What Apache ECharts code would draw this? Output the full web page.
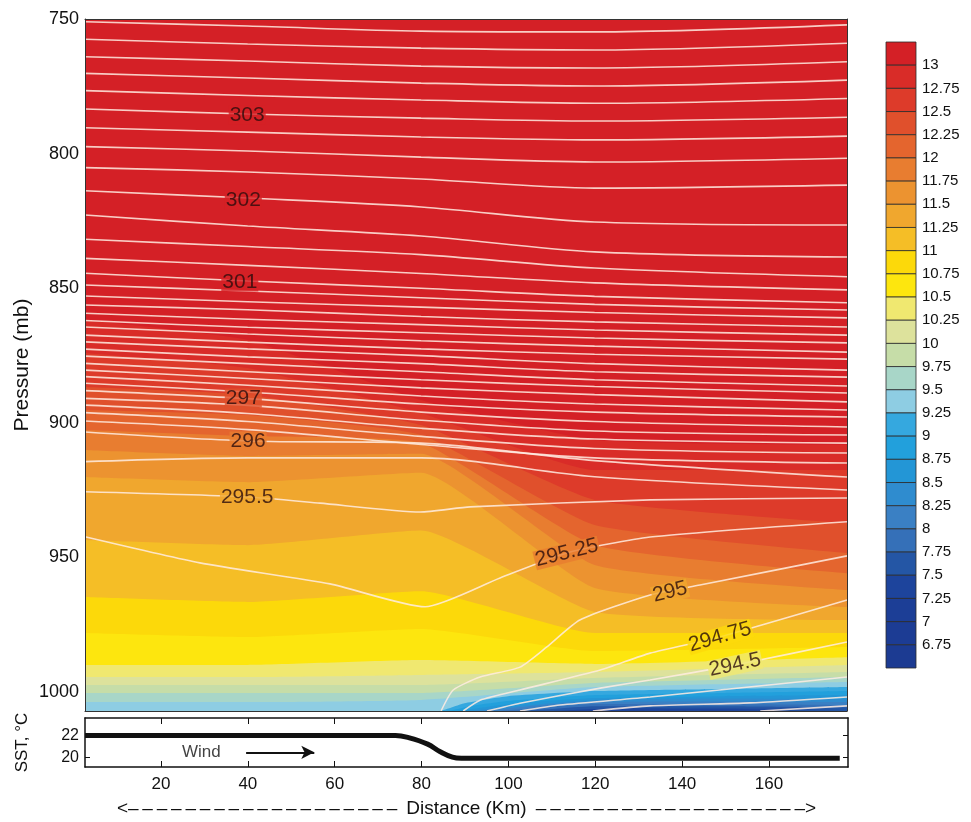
<!DOCTYPE html>
<html><head><meta charset="utf-8">
<script src="https://cdn.jsdelivr.net/npm/echarts@6/dist/echarts.min.js"></script>
<style>html,body{margin:0;padding:0;background:#fff}#c{width:971px;height:822px}</style>
</head><body><div id="c"></div>
<script>
// ---------------- DATA ----------------
const distanceTicks = [20, 40, 60, 80, 100, 120, 140, 160];
const pressureTicks = [750, 800, 850, 900, 950, 1000];
const sstTicks = [20, 22];
const colorbarTicks = [13, 12.75, 12.5, 12.25, 12, 11.75, 11.5, 11.25, 11, 10.75, 10.5, 10.25, 10,
  9.75, 9.5, 9.25, 9, 8.75, 8.5, 8.25, 8, 7.75, 7.5, 7.25, 7, 6.75];
// colours of the 27 humidity bands, from ">13" down to "<6.75"
const bandColors = ['#d42026', '#d92c28', '#dd3b2a', '#e0502c', '#e4652e', '#e87d30', '#ec9330', '#f0a72e',
  '#f5be26', '#fcd90a', '#fde60e', '#f0e870', '#dde29c', '#c6dda8', '#a8d6c8', '#8ecde3', '#35a8df',
  '#22a0dc', '#2396d6', '#2f8ccf', '#3a80c4', '#3570b8', '#2456a5', '#1d449c', '#1c3e96', '#1c3c94', '#1c3b92'];

// potential temperature contours, pressure (mb) at distance stations (km)
const distanceStations = [2.5, 40, 80, 120, 178.2];
const thetaUpperLevels = [304.25, 304, 303.75, 303.5, 303.25, 303, 302.75, 302.5, 302.25, 302, 301.75,
  301.5, 301.25, 301, 300.75, 300.5, 300.25, 300, 299.75, 299.5, 299.25, 299, 298.75, 298.5, 298.25,
  298, 297.75, 297.5, 297.25, 297, 296.75, 296.5, 296.25, 296, 295.75];
const thetaUpperP = [
  [751.0, 752.6, 754.5, 754.8, 752.2],
  [757.5, 759.3, 760.8, 761.5, 759.0],
  [764.0, 765.6, 767.5, 768.2, 765.9],
  [770.2, 771.9, 773.8, 774.9, 772.7],
  [776.6, 778.4, 780.1, 781.3, 779.5],
  [783.4, 785.3, 786.8, 787.9, 786.5],
  [790.4, 792.0, 793.8, 794.9, 793.5],
  [797.4, 799.0, 801.3, 803.1, 801.7],
  [805.2, 806.8, 809.4, 812.8, 811.7],
  [813.8, 816.5, 819.8, 825.4, 826.5],
  [822.8, 826.9, 830.6, 836.5, 838.4],
  [831.8, 834.5, 837.5, 842.5, 845.7],
  [838.9, 841.5, 844.5, 848.0, 850.6],
  [844.4, 847.3, 850.0, 853.0, 855.4],
  [848.8, 851.0, 853.5, 856.0, 858.1],
  [852.9, 855.0, 857.0, 859.0, 861.0],
  [856.2, 858.0, 860.5, 862.5, 864.4],
  [859.3, 861.5, 863.5, 865.5, 867.4],
  [862.0, 864.5, 866.5, 868.5, 870.3],
  [864.4, 867.0, 869.5, 871.5, 873.7],
  [867.4, 870.0, 872.5, 874.5, 876.3],
  [869.9, 872.5, 875.0, 878.0, 880.4],
  [872.6, 875.5, 878.0, 881.0, 883.0],
  [875.2, 878.0, 881.0, 884.0, 886.3],
  [877.9, 881.0, 884.0, 886.5, 888.9],
  [880.4, 883.5, 887.0, 889.5, 892.2],
  [882.8, 886.0, 890.0, 893.0, 895.2],
  [885.3, 888.5, 893.0, 896.0, 897.8],
  [888.0, 891.0, 896.0, 899.5, 901.5],
  [890.9, 893.5, 899.0, 903.0, 904.5],
  [893.4, 896.5, 902.0, 906.0, 907.5],
  [896.2, 899.5, 905.0, 909.5, 911.2],
  [899.3, 902.5, 908.0, 913.0, 914.9],
  [903.4, 906.7, 907.5, 914.0, 920.1],
  [914.4, 913.0, 913.0, 920.0, 924.9]
];
const thetaLowerLevels = [295.5, 295.25, 295, 294.75, 294.5, 294.25, 294, 293.75];
const thetaLowerKm = [
  [2.5, 40.1, 56.7, 79.8, 91.3, 132.8, 178.2],
  [2.5, 29.0, 59.0, 80.9, 98.2, 113.6, 132.8, 178.2],
  [84.6, 87.4, 93.6, 102.8, 109.0, 116.6, 132.8, 144.3, 178.2],
  [89.7, 93.6, 102.8, 121.3, 132.8, 148.9, 178.2],
  [95.2, 102.8, 121.3, 132.8, 152.4, 178.2],
  [102.8, 112.0, 132.8, 178.2],
  [119.6, 132.8, 155.8, 178.2],
  [158.2, 178.2]
];
const thetaLowerP = [
  [925.6, 927.5, 929.8, 933.1, 931.2, 928.6, 927.9],
  [942.3, 952.0, 959.8, 968.3, 957.6, 948.3, 942.4, 936.7],
  [1007, 999.2, 994.4, 990.7, 983.2, 973.2, 963.9, 960.2, 949.4],
  [1007, 1003.0, 999.2, 991.8, 985.5, 979.5, 965.8],
  [1007, 1004.1, 998.5, 995.5, 989.9, 981.4],
  [1007, 1004.8, 1001.8, 994.4],
  [1007, 1005.1, 1004.0, 1001.8],
  [1007, 1005.1]
];
const thetaLabelText = ['303', '302', '301', '297', '296', '295.5', '295.25', '295', '294.75', '294.5'];
const thetaLabelKm = [39.9, 39.0, 38.2, 39.0, 40.1, 39.9, 113.6, 137.4, 148.9, 152.4];
const thetaLabelP = [785.7, 817.2, 847.7, 890.8, 906.7, 927.5, 948.3, 962.8, 979.5, 989.9];
const thetaLabelAngle = [0, 0, 0, 0, 0, 0, 14, 14, 16, 12];
const thetaLabelBand = [0, 0, 0, 3, 5, 7, 5, 7, 9, 11];

// specific humidity band boundaries (g/kg): below each curve q < level
const humidityLevels = [13, 12.75, 12.5, 12.25, 12, 11.75, 11.5, 11.25, 11, 10.75, 10.5, 10.25, 10,
  9.75, 9.5, 9.25, 9, 8.75, 8.5, 8.25, 8, 7.75, 7.5, 7.25];
const humidityKm = [
  [2.5, 40, 80, 120, 178.2], [2.5, 40, 80, 120, 178.2], [2.5, 40, 80, 120, 178.2],
  [2.5, 40, 80, 120, 178.2], [2.5, 40, 80, 120, 178.2], [2.5, 40, 80, 120, 178.2],
  [2.5, 40, 80, 120, 178.2], [2.5, 40, 80, 120, 178.2], [2.5, 40, 80, 120, 178.2],
  [2.5, 40, 80, 120, 178.2], [2.5, 40, 80, 120, 178.2], [2.5, 40, 80, 120, 178.2],
  [2.5, 40, 80, 120, 178.2], [2.5, 40, 80, 120, 178.2], [2.5, 40, 80, 120, 178.2],
  [2.5, 84, 90, 100, 120, 150, 178.2],
  [2.5, 86, 92, 100, 120, 150, 178.2],
  [2.5, 88, 95, 105, 120, 150, 178.2],
  [2.5, 90, 100, 120, 150, 178.2],
  [2.5, 93, 105, 120, 150, 178.2],
  [2.5, 97, 110, 120, 150, 178.2],
  [2.5, 102, 120, 150, 178.2],
  [2.5, 110, 125, 178.2],
  [2.5, 120, 150, 178.2]
];
const humidityP = [
  [861.8, 869.2, 891.5, 906.4, 908.2],
  [874.0, 879.6, 896.3, 917.5, 917.5],
  [886.7, 889.6, 900.8, 928.6, 937.2],
  [895.2, 897.1, 904.5, 937.9, 948.3],
  [902.6, 904.9, 907.5, 945.4, 955.8],
  [910.1, 912.3, 911.5, 952.8, 962.1],
  [920.1, 922.0, 918.5, 961.3, 968.4],
  [943.5, 945.4, 940.0, 970.2, 973.2],
  [964.7, 966.5, 962.5, 978.0, 978.0],
  [978.0, 979.5, 976.5, 984.7, 983.2],
  [989.9, 989.9, 988.1, 989.5, 987.0],
  [994.4, 994.4, 993.6, 992.5, 989.9],
  [997.3, 997.3, 997.3, 994.7, 992.5],
  [1000.3, 1000.3, 1000.3, 996.6, 994.4],
  [1003.7, 1003.7, 1002.9, 998.1, 996.2],
  [1007, 1007, 1004.1, 1001.5, 999.6, 998.8, 998.1],
  [1007, 1007, 1005.0, 1003.3, 1001.1, 1000.3, 999.6],
  [1007, 1007, 1005.5, 1003.7, 1002.2, 1001.5, 1001.1],
  [1007, 1007, 1005.5, 1002.9, 1002.4, 1002.6],
  [1007, 1007, 1005.2, 1003.7, 1003.5, 1003.7],
  [1007, 1007, 1005.4, 1004.4, 1004.4, 1004.8],
  [1007, 1007, 1005.2, 1005.2, 1005.6],
  [1007, 1007, 1006.0, 1006.3],
  [1007, 1007, 1006.7, 1006.7]
];

// sea surface temperature
const sstKm = [2.5, 74, 77, 81.4, 84.3, 87.1, 89.2, 176.3];
const sstC = [22.0, 22.0, 21.8, 21.2, 20.5, 20.0, 19.9, 19.9];

// ---------------- CHART ----------------
const FONT = '"Liberation Sans", Arial, Helvetica, sans-serif';
const chart = echarts.init(document.getElementById('c'), null, { renderer: 'canvas' });
const series = [];

humidityLevels.forEach((lv, j) => {
  series.push({
    type: 'line', xAxisIndex: 0, yAxisIndex: 0, silent: true, z: 1,
    data: humidityKm[j].map((k, s) => [k, humidityP[j][s]]),
    symbol: 'none', smooth: 0.15, lineStyle: { width: 0 },
    areaStyle: { color: bandColors[j + 1], opacity: 1, origin: 'end' }
  });
});

const contourStyle = { color: 'rgba(255,236,226,0.85)', width: 1.6 };
thetaUpperLevels.forEach((lv, i) => {
  series.push({
    type: 'line', xAxisIndex: 0, yAxisIndex: 0, silent: true, z: 3,
    data: distanceStations.map((k, s) => [k, thetaUpperP[i][s]]),
    symbol: 'none', smooth: 0.3, lineStyle: contourStyle
  });
});
thetaLowerLevels.forEach((lv, i) => {
  series.push({
    type: 'line', xAxisIndex: 0, yAxisIndex: 0, silent: true, z: 3,
    data: thetaLowerKm[i].map((k, s) => [k, thetaLowerP[i][s]]),
    symbol: 'none', smooth: 0.2, lineStyle: contourStyle
  });
});
thetaLabelText.forEach((t, i) => {
  series.push({
    type: 'scatter', xAxisIndex: 0, yAxisIndex: 0, silent: true, z: 5,
    symbolSize: 0,
    data: [[thetaLabelKm[i], thetaLabelP[i]]],
    label: {
      show: true, position: 'inside', formatter: t, rotate: thetaLabelAngle[i],
      fontFamily: FONT, fontSize: 21, color: '#2a0c0c',
      backgroundColor: bandColors[thetaLabelBand[i]], padding: [-1, 1]
    }
  });
});

// SST panel
series.push({
  type: 'line', xAxisIndex: 2, yAxisIndex: 2, silent: true, z: 3,
  data: sstKm.map((k, s) => [k, sstC[s]]), symbol: 'none', smooth: 0.4,
  lineStyle: { color: '#111', width: 5 },
  markLine: {
    silent: true, symbol: ['none', 'arrow'], symbolSize: [10, 13],
    lineStyle: { color: '#111', width: 1.8, type: 'solid' }, label: { show: false },
    data: [[{ coord: [39.6, 20.45] }, { coord: [55.3, 20.45] }]]
  }
});
series.push({
  type: 'scatter', xAxisIndex: 2, yAxisIndex: 2, silent: true, symbolSize: 0,
  data: [[29.3, 20.45]],
  label: { show: true, position: 'inside', formatter: 'Wind', fontFamily: FONT, fontSize: 17, color: '#111' }
});

// colour bar
series.push({
  type: 'line', xAxisIndex: 4, yAxisIndex: 4, silent: true, symbol: 'none',
  data: [['a', 10]], lineStyle: { width: 0 },
  markArea: {
    silent: true,
    data: bandColors.map((c, k) => [
      { yAxis: 13.25 - 0.25 * (k + 1), itemStyle: { color: c, borderColor: '#2b2b2b', borderWidth: 0.8 } },
      { yAxis: 13.25 - 0.25 * k }
    ])
  }
});

const hideAxis = { axisLabel: { show: false }, axisTick: { show: false }, splitLine: { show: false } };
const frameLine = { show: true, onZero: false, lineStyle: { color: '#333', width: 1 } };
const dashL = '\u2013\u2009'.repeat(19);
const dashR = '\u2009\u2013'.repeat(19);

chart.setOption({
  animation: false,
  textStyle: { fontFamily: FONT },
  grid: [
    { left: 85, top: 19, width: 762, height: 692, show: true, backgroundColor: bandColors[0], borderWidth: 0, outerBoundsMode: 'none' },
    { left: 85, top: 718, width: 763, height: 49, outerBoundsMode: 'none' },
    { left: 886, top: 42, width: 30, height: 626, outerBoundsMode: 'none' }
  ],
  xAxis: [
    Object.assign({ type: 'value', gridIndex: 0, min: 2.5, max: 178.2, axisLine: frameLine, z: 10 }, hideAxis),
    Object.assign({ type: 'value', gridIndex: 0, min: 2.5, max: 178.2, position: 'top', axisLine: frameLine, z: 10 }, hideAxis),
    {
      type: 'value', gridIndex: 1, min: 2.5, max: 178.2, splitLine: { show: false },
      axisLine: { show: true, onZero: false, lineStyle: { color: '#111', width: 1.5 } },
      axisTick: { show: true, inside: true, length: 6, customValues: distanceTicks, lineStyle: { color: '#111' } },
      axisLabel: { customValues: distanceTicks, fontSize: 17, color: '#111', margin: 9 },
      name: '<' + dashL + ' Distance (Km) ' + dashR + '>',
      nameLocation: 'middle', nameGap: 32, nameMoveOverlap: false, nameTextStyle: { fontSize: 19, color: '#111' }
    },
    {
      type: 'value', gridIndex: 1, min: 2.5, max: 178.2, position: 'top', splitLine: { show: false },
      axisLine: { show: true, onZero: false, lineStyle: { color: '#111', width: 1.5 } },
      axisTick: { show: true, inside: true, length: 6, customValues: distanceTicks, lineStyle: { color: '#111' } },
      axisLabel: { show: false }
    },
    { type: 'category', gridIndex: 2, data: ['a'], show: false }
  ],
  yAxis: [
    {
      type: 'value', gridIndex: 0, inverse: true, min: 750, max: 1007, interval: 50,
      axisLine: frameLine, axisTick: { show: false }, splitLine: { show: false }, z: 10,
      axisLabel: { fontSize: 18, color: '#111', margin: 6, showMaxLabel: false, formatter: v => String(v) },
      name: 'Pressure (mb)', nameLocation: 'middle', nameGap: 52, nameRotate: 90, nameMoveOverlap: false,
      nameTextStyle: { fontSize: 21, color: '#111' }
    },
    Object.assign({ type: 'value', gridIndex: 0, inverse: true, min: 750, max: 1007, position: 'right', axisLine: frameLine, z: 10 }, hideAxis),
    {
      type: 'value', gridIndex: 1, min: 19.1, max: 23.6, splitLine: { show: false },
      axisLine: { show: true, onZero: false, lineStyle: { color: '#111', width: 1.5 } },
      axisTick: { show: true, inside: true, length: 5, customValues: sstTicks, lineStyle: { color: '#111' } },
      axisLabel: { customValues: sstTicks, fontSize: 16, color: '#111', margin: 6 },
      name: 'SST, °C', nameLocation: 'middle', nameGap: 54, nameRotate: 90, nameMoveOverlap: false,
      nameTextStyle: { fontSize: 17, color: '#111' }
    },
    {
      type: 'value', gridIndex: 1, min: 19.1, max: 23.6, position: 'right', splitLine: { show: false },
      axisLine: { show: true, onZero: false, lineStyle: { color: '#111', width: 1.5 } },
      axisTick: { show: true, inside: true, length: 5, customValues: sstTicks, lineStyle: { color: '#111' } },
      axisLabel: { show: false }
    },
    {
      type: 'value', gridIndex: 2, min: 6.5, max: 13.25, position: 'right', splitLine: { show: false },
      axisLine: { show: false }, axisTick: { show: false },
      axisLabel: { customValues: colorbarTicks, fontSize: 15, color: '#111', margin: 6 }
    }
  ],
  series: series
});
</script>
</body></html>
